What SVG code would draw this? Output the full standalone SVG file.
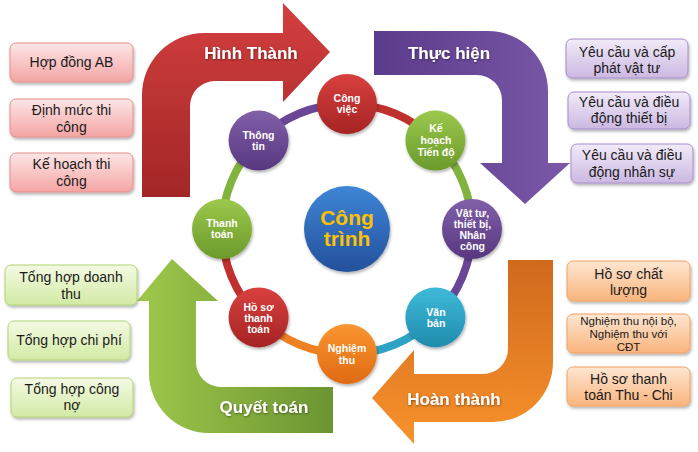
<svg xmlns="http://www.w3.org/2000/svg" width="698" height="452" viewBox="0 0 698 452">
<defs>
  <linearGradient id="gRedArrow" x1="0" y1="0" x2="0" y2="1">
    <stop offset="0" stop-color="#d33f3f"/><stop offset="1" stop-color="#a32626"/>
  </linearGradient>
  <linearGradient id="gPurpleArrow" x1="0" y1="0" x2="1" y2="0">
    <stop offset="0" stop-color="#5b3b8b"/><stop offset="1" stop-color="#7b58a8"/>
  </linearGradient>
  <linearGradient id="gOrangeArrow" x1="0" y1="0" x2="0" y2="1">
    <stop offset="0" stop-color="#d0691c"/><stop offset="1" stop-color="#f8922c"/>
  </linearGradient>
  <linearGradient id="gGreenArrow" x1="0" y1="0" x2="1" y2="0">
    <stop offset="0" stop-color="#9ec84b"/><stop offset="1" stop-color="#6c9431"/>
  </linearGradient>
  <linearGradient id="gPink" x1="0" y1="0" x2="0" y2="1">
    <stop offset="0" stop-color="#fde6e6"/><stop offset="1" stop-color="#f4a4a4"/>
  </linearGradient>
  <linearGradient id="gLav" x1="0" y1="0" x2="0" y2="1">
    <stop offset="0" stop-color="#f1ebf8"/><stop offset="1" stop-color="#cbb8e2"/>
  </linearGradient>
  <linearGradient id="gPeach" x1="0" y1="0" x2="0" y2="1">
    <stop offset="0" stop-color="#fee6d2"/><stop offset="1" stop-color="#f9b47c"/>
  </linearGradient>
  <linearGradient id="gLime" x1="0" y1="0" x2="0" y2="1">
    <stop offset="0" stop-color="#f4fae4"/><stop offset="1" stop-color="#d2eaa4"/>
  </linearGradient>
  <linearGradient id="cRed" x1="0" y1="0" x2="0" y2="1">
    <stop offset="0" stop-color="#d8403e"/><stop offset="1" stop-color="#a52424"/>
  </linearGradient>
  <linearGradient id="cGreen" x1="0" y1="0" x2="0" y2="1">
    <stop offset="0" stop-color="#9cc84c"/><stop offset="1" stop-color="#6b9a2b"/>
  </linearGradient>
  <linearGradient id="cPurple" x1="0" y1="0" x2="0" y2="1">
    <stop offset="0" stop-color="#8160a8"/><stop offset="1" stop-color="#573780"/>
  </linearGradient>
  <linearGradient id="cTeal" x1="0" y1="0" x2="0" y2="1">
    <stop offset="0" stop-color="#3fbad9"/><stop offset="1" stop-color="#1f8bad"/>
  </linearGradient>
  <linearGradient id="cOrange" x1="0" y1="0" x2="0" y2="1">
    <stop offset="0" stop-color="#fa9631"/><stop offset="1" stop-color="#df6a12"/>
  </linearGradient>
  <linearGradient id="cBlue" x1="0" y1="0" x2="0" y2="1">
    <stop offset="0" stop-color="#3e86d6"/><stop offset="1" stop-color="#24509c"/>
  </linearGradient>
  <filter id="sh" x="-20%" y="-20%" width="140%" height="150%">
    <feDropShadow dx="1" dy="2" stdDeviation="1.5" flood-color="#000" flood-opacity="0.3"/>
  </filter>
  <filter id="tsh" x="-10%" y="-30%" width="120%" height="160%">
    <feDropShadow dx="0.5" dy="1" stdDeviation="0.8" flood-color="#000" flood-opacity="0.45"/>
  </filter>
</defs>
<style>
  .box { stroke-width: 1; filter: url(#sh); }
  .pink { fill: url(#gPink); stroke: #e48e8e; }
  .lav { fill: url(#gLav); stroke: #a68ccb; }
  .peach { fill: url(#gPeach); stroke: #f2a261; }
  .lime { fill: url(#gLime); stroke: #b3d475; }
  .bt { font-family: "Liberation Sans", Arial, sans-serif; font-size: 14px; fill: #1a1a1a; text-anchor: middle; }
  .bts { font-family: "Liberation Sans", Arial, sans-serif; font-size: 11.5px; fill: #1a1a1a; text-anchor: middle; }
  .al { font-family: "Liberation Sans", Arial, sans-serif; font-size: 17px; font-weight: bold; fill: #ffffff; text-anchor: middle; filter: url(#tsh); }
  .nt { font-family: "Liberation Sans", Arial, sans-serif; font-size: 10.5px; font-weight: bold; fill: #ffffff; text-anchor: middle; }
  .ct { font-family: "Liberation Sans", Arial, sans-serif; font-size: 21px; font-weight: bold; fill: #ffc000; text-anchor: middle; }
  .node circle { filter: url(#sh); }
  .seg { fill: none; stroke-width: 8; }
</style>

<!-- big arrows -->
<g id="arrow-hinh-thanh">
  <path d="M142,197 L142,95 A62,62 0 0 1 204,33 L283,33 L283,3 L330,52 L283,102 L283,81 L215,81 A25,25 0 0 0 190,106 L190,197 Z" fill="url(#gRedArrow)"/>
  <text class="al" x="251" y="59">Hình Thành</text>
</g>
<g id="arrow-thuc-hien">
  <path d="M374,31 L488,31 A60,60 0 0 1 548,91 L548,163 L570,163 L525,204 L480,163 L502,163 L502,100 A25,25 0 0 0 477,75 L374,75 Z" fill="url(#gPurpleArrow)"/>
  <text class="al" x="449" y="59">Thực hiện</text>
</g>
<g id="arrow-hoan-thanh">
  <path d="M508,260 L553,260 L553,362 A60,60 0 0 1 493,422 L414,422 L414,444 L372,398 L414,350 L414,374 L483,374 A25,25 0 0 0 508,349 Z" fill="url(#gOrangeArrow)"/>
  <text class="al" x="454" y="405">Hoàn thành</text>
</g>
<g id="arrow-quyet-toan">
  <path d="M333,387 L333,433 L209,433 A60,60 0 0 1 149,373 L149,301 L137,301 L172,259 L218,301 L196,301 L196,362 A25,25 0 0 0 221,387 Z" fill="url(#gGreenArrow)"/>
  <text class="al" x="264" y="413">Quyết toán</text>
</g>

<!-- ring connectors -->
<g id="connectors">
  <path class="seg" stroke="#c0302f" d="M347,104 A125,125 0 0 1 435.39,140.61"/>
  <path class="seg" stroke="#82b33e" d="M435.39,140.61 A125,125 0 0 1 472,229"/>
  <path class="seg" stroke="#6a4796" d="M472,229 A125,125 0 0 1 435.39,317.39"/>
  <path class="seg" stroke="#2ea3c6" d="M435.39,317.39 A125,125 0 0 1 347,354"/>
  <path class="seg" stroke="#ef8122" d="M347,354 A125,125 0 0 1 258.61,317.39"/>
  <path class="seg" stroke="#c0302f" d="M258.61,317.39 A125,125 0 0 1 222,229"/>
  <path class="seg" stroke="#82b33e" d="M222,229 A125,125 0 0 1 258.61,140.61"/>
  <path class="seg" stroke="#6a4796" d="M258.61,140.61 A125,125 0 0 1 347,104"/>
</g>

<!-- ring nodes -->
<g id="node-cong-viec" class="node">
  <circle cx="347" cy="104" r="30" fill="url(#cRed)"/>
  <text class="nt" x="347" y="102">Công</text>
  <text class="nt" x="347" y="113">việc</text>
</g>
<g id="node-ke-hoach" class="node">
  <circle cx="435.4" cy="140.6" r="30" fill="url(#cGreen)"/>
  <text class="nt" x="436" y="132">Kế</text>
  <text class="nt" x="436" y="144">hoạch</text>
  <text class="nt" x="436" y="156">Tiến độ</text>
</g>
<g id="node-vat-tu" class="node">
  <circle cx="472" cy="229" r="30" fill="url(#cPurple)"/>
  <text class="nt" x="472.5" y="216.5">Vật tư,</text>
  <text class="nt" x="472.5" y="227.5">thiết bị,</text>
  <text class="nt" x="472.5" y="238.5">Nhân</text>
  <text class="nt" x="472.5" y="249.5">công</text>
</g>
<g id="node-van-ban" class="node">
  <circle cx="435.4" cy="317.4" r="30" fill="url(#cTeal)"/>
  <text class="nt" x="436" y="315.5">Văn</text>
  <text class="nt" x="436" y="327">bản</text>
</g>
<g id="node-nghiem-thu" class="node">
  <circle cx="347" cy="354" r="30" fill="url(#cOrange)"/>
  <text class="nt" x="347" y="352">Nghiệm</text>
  <text class="nt" x="347" y="364">thu</text>
</g>
<g id="node-ho-so-thanh-toan" class="node">
  <circle cx="258.6" cy="317.4" r="30" fill="url(#cRed)"/>
  <text class="nt" x="258.5" y="310.5">Hồ sơ</text>
  <text class="nt" x="258.5" y="321.5">thanh</text>
  <text class="nt" x="258.5" y="332.5">toán</text>
</g>
<g id="node-thanh-toan" class="node">
  <circle cx="222" cy="229" r="30" fill="url(#cGreen)"/>
  <text class="nt" x="222" y="227">Thanh</text>
  <text class="nt" x="222" y="238">toán</text>
</g>
<g id="node-thong-tin" class="node">
  <circle cx="258.6" cy="140.6" r="30" fill="url(#cPurple)"/>
  <text class="nt" x="258.5" y="139">Thông</text>
  <text class="nt" x="258.5" y="149.5">tin</text>
</g>
<g id="node-cong-trinh" class="node">
  <circle cx="347" cy="229" r="43" fill="url(#cBlue)"/>
  <text class="ct" x="347" y="224.5">Công</text>
  <text class="ct" x="347" y="246">trình</text>
</g>

<!-- left pink boxes -->
<g id="box-hop-dong">
  <rect class="box pink" x="10" y="43" width="123" height="39" rx="6"/>
  <text class="bt" x="71.5" y="67">Hợp đồng AB</text>
</g>
<g id="box-dinh-muc">
  <rect class="box pink" x="10" y="99" width="123" height="38" rx="6"/>
  <text class="bt" x="71.5" y="115">Định mức thi</text>
  <text class="bt" x="71.5" y="131.5">công</text>
</g>
<g id="box-ke-hoach-thi-cong">
  <rect class="box pink" x="10" y="153" width="123" height="39" rx="6"/>
  <text class="bt" x="71.5" y="169">Kế hoạch thi</text>
  <text class="bt" x="71.5" y="185.5">công</text>
</g>

<!-- right purple boxes -->
<g id="box-cap-phat">
  <rect class="box lav" x="566" y="39" width="122" height="39" rx="6"/>
  <text class="bt" x="627" y="56.5">Yêu cầu và cấp</text>
  <text class="bt" x="627" y="73">phát vật tư</text>
</g>
<g id="box-thiet-bi">
  <rect class="box lav" x="568" y="92" width="122" height="37" rx="6"/>
  <text class="bt" x="629" y="106.5">Yêu cầu và điều</text>
  <text class="bt" x="629" y="123">động thiết bị</text>
</g>
<g id="box-nhan-su">
  <rect class="box lav" x="571" y="144" width="122" height="39" rx="6"/>
  <text class="bt" x="632" y="160">Yêu cầu và điều</text>
  <text class="bt" x="632" y="176.5">động nhân sự</text>
</g>

<!-- right orange boxes -->
<g id="box-chat-luong">
  <rect class="box peach" x="567" y="261" width="123" height="40" rx="6"/>
  <text class="bt" x="628.5" y="278.5">Hồ sơ chất</text>
  <text class="bt" x="628.5" y="295">lượng</text>
</g>
<g id="box-nghiem-thu">
  <rect class="box peach" x="567" y="314" width="123" height="39" rx="6"/>
  <text class="bts" x="628.5" y="324.5">Nghiệm thu nội bộ,</text>
  <text class="bts" x="628.5" y="338">Nghiệm thu với</text>
  <text class="bts" x="628.5" y="351">CĐT</text>
</g>
<g id="box-thu-chi">
  <rect class="box peach" x="567" y="367" width="123" height="39" rx="6"/>
  <text class="bt" x="628.5" y="383.5">Hồ sơ thanh</text>
  <text class="bt" x="628.5" y="400">toán Thu - Chi</text>
</g>

<!-- left green boxes -->
<g id="box-doanh-thu">
  <rect class="box lime" x="5" y="265" width="132" height="40" rx="6"/>
  <text class="bt" x="71" y="282">Tổng hợp doanh</text>
  <text class="bt" x="71" y="298.5">thu</text>
</g>
<g id="box-chi-phi">
  <rect class="box lime" x="8" y="321" width="122" height="39" rx="6"/>
  <text class="bt" x="69" y="345">Tổng hợp chi phí</text>
</g>
<g id="box-cong-no">
  <rect class="box lime" x="11" y="378" width="122" height="39" rx="6"/>
  <text class="bt" x="72" y="393.5">Tổng hợp công</text>
  <text class="bt" x="72" y="410">nợ</text>
</g>
</svg>
